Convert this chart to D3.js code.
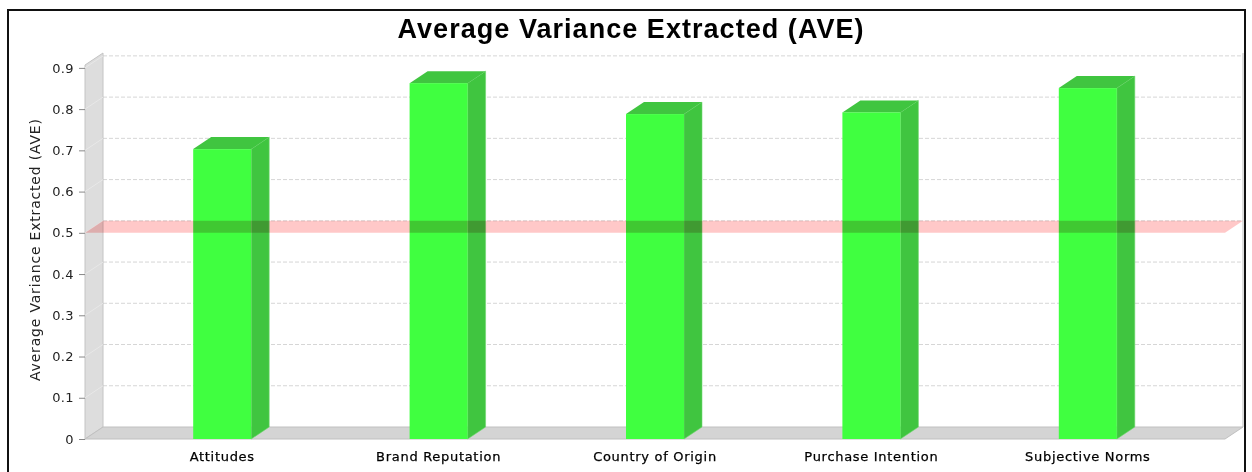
<!DOCTYPE html>
<html>
<head>
<meta charset="utf-8">
<script src="https://cdn.jsdelivr.net/npm/d3@7"></script>
<style>
  html, body { margin: 0; padding: 0; background: #ffffff; }
  svg { display: block; }
</style>
</head>
<body>
<svg id="chart" width="1252" height="472"></svg>
<script>
// Constructs and their AVE scores
const categories = ["Attitudes", "Brand Reputation", "Country of Origin", "Purchase Intention", "Subjective Norms"];
const aveValues = [0.703, 0.863, 0.788, 0.792, 0.851];
const yTickValues = [0, 0.1, 0.2, 0.3, 0.4, 0.5, 0.6, 0.7, 0.8, 0.9];
const yTickLabels = ["0", "0.1", "0.2", "0.3", "0.4", "0.5", "0.6", "0.7", "0.8", "0.9"];
const thresholdValue = 0.5;
const chartTitle = "Average Variance Extracted (AVE)";
const yAxisTitle = "Average Variance Extracted (AVE)";

const svg = d3.select("#chart");

// Front face of the 3D plot and the depth offset to the back plane
const plot = { left: 85, right: 1225, top: 65, bottom: 439 };
const depthX = 18, depthY = 12;

const y = d3.scaleLinear().domain([0, 0.907]).range([plot.bottom, plot.top]);
const x = d3.scaleBand().domain(categories).range([plot.left, plot.right])
  .paddingInner(0.732).paddingOuter(0.5);

const pts = a => a.map(p => p.join(",")).join(" ");

// Chart frame
svg.append("rect").attr("x", 8).attr("y", 10).attr("width", 1237).attr("height", 470)
  .attr("fill", "#ffffff").attr("stroke", "#111").attr("stroke-width", 2);

// Title
svg.append("text")
  .attr("x", 630.5).attr("y", 38)
  .attr("text-anchor", "middle")
  .attr("font-family", "Liberation Sans, Arial, sans-serif")
  .attr("font-weight", "bold").attr("font-size", 27)
  .attr("textLength", 466).attr("lengthAdjust", "spacing")
  .attr("fill", "#000").text(chartTitle);

// Back wall gridlines
svg.append("g").selectAll("line").data(yTickValues.filter(v => v > 0)).join("line")
  .attr("x1", plot.left + depthX).attr("x2", plot.right + depthX)
  .attr("y1", d => y(d) - depthY).attr("y2", d => y(d) - depthY)
  .attr("stroke", "#d6d6d6").attr("stroke-width", 1).attr("stroke-dasharray", "4,2");

// Right edge of back plane
svg.append("line")
  .attr("x1", plot.right + depthX).attr("x2", plot.right + depthX)
  .attr("y1", y(0.907) - depthY).attr("y2", y(0) - depthY)
  .attr("stroke", "#c8c8c8").attr("stroke-width", 1.2);

// Left wall
svg.append("polygon")
  .attr("points", pts([[plot.left, y(0)], [plot.left, y(0.907)], [plot.left + depthX, y(0.907) - depthY], [plot.left + depthX, y(0) - depthY]]))
  .attr("fill", "#dddddd").attr("stroke", "#c4c4c4").attr("stroke-width", 1);

// Faint tick lines across the wall
svg.append("g").selectAll("line").data(yTickValues.filter(v => v > 0)).join("line")
  .attr("x1", plot.left).attr("y1", d => y(d))
  .attr("x2", plot.left + depthX).attr("y2", d => y(d) - depthY)
  .attr("stroke", "#e8e8e8").attr("stroke-width", 1);

// Floor
svg.append("polygon")
  .attr("points", pts([[plot.left, y(0)], [plot.left + depthX, y(0) - depthY], [plot.right + depthX, y(0) - depthY], [plot.right, y(0)]]))
  .attr("fill", "#d4d4d4").attr("stroke", "#c0c0c0").attr("stroke-width", 1);

// 3D bars
const bars = svg.append("g").selectAll("g").data(categories.map((c, i) => ({ c, v: aveValues[i] }))).join("g");
bars.each(function(d) {
  const g = d3.select(this);
  const x0 = x(d.c), x1 = x(d.c) + x.bandwidth();
  const yt = y(d.v), yb = y(0);
  // side face
  g.append("polygon")
    .attr("points", pts([[x1, yb], [x1, yt], [x1 + depthX, yt - depthY], [x1 + depthX, yb - depthY]]))
    .attr("fill", "#40c540").attr("stroke", "#6fd66f").attr("stroke-width", 0.6);
  // top face
  g.append("polygon")
    .attr("points", pts([[x0, yt], [x0 + depthX, yt - depthY], [x1 + depthX, yt - depthY], [x1, yt]]))
    .attr("fill", "#40c540");
  // front face
  g.append("rect")
    .attr("x", x0).attr("y", yt).attr("width", x1 - x0).attr("height", yb - yt)
    .attr("fill", "#40ff40");
});

// Threshold marker at 0.5
const ty = y(thresholdValue);
svg.append("polygon")
  .attr("points", pts([[plot.left, ty], [plot.left + depthX, ty - depthY], [plot.right + depthX, ty - depthY], [plot.right, ty]]))
  .attr("fill", "#ffc8c8").style("mix-blend-mode", "multiply");

// Value axis
const yAxis = svg.append("g").attr("transform", `translate(${plot.left},0)`)
  .call(d3.axisLeft(y).tickValues(yTickValues).tickFormat((d, i) => yTickLabels[i])
    .tickSizeInner(6).tickSizeOuter(0).tickPadding(5));
yAxis.select(".domain").remove();
yAxis.selectAll(".tick line").attr("stroke", "#888");
yAxis.selectAll("text")
  .attr("font-family", "DejaVu Sans, sans-serif").attr("font-size", 13)
  .attr("letter-spacing", 0.4).attr("fill", "#222");

// Category axis
const xAxis = svg.append("g").attr("transform", `translate(0,${plot.bottom})`)
  .call(d3.axisBottom(x).tickSize(0).tickPadding(13));
xAxis.select(".domain").remove();
xAxis.selectAll("text")
  .attr("font-family", "DejaVu Sans, sans-serif").attr("font-size", 13)
  .attr("letter-spacing", 0.7).attr("fill", "#000")
  .attr("stroke", "#000").attr("stroke-width", 0.25);

// Value axis title
svg.append("text")
  .attr("transform", `translate(40,${(plot.top + plot.bottom) / 2 - 2}) rotate(-90)`)
  .attr("text-anchor", "middle")
  .attr("font-family", "DejaVu Sans, sans-serif").attr("font-size", 14)
  .attr("textLength", 262).attr("lengthAdjust", "spacing")
  .attr("fill", "#222").text(yAxisTitle);
</script>
</body>
</html>
